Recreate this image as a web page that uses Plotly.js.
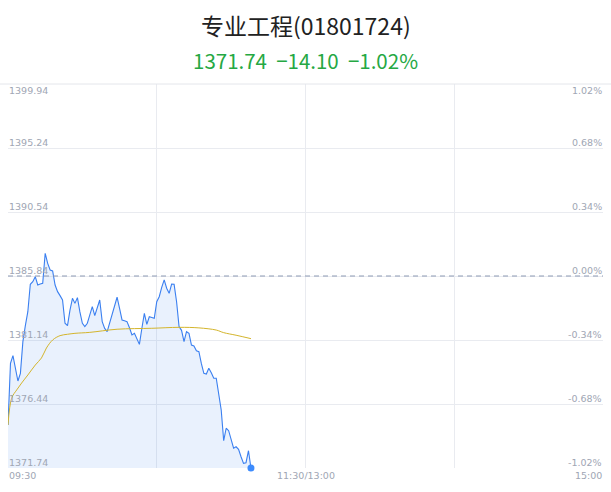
<!DOCTYPE html>
<html>
<head>
<meta charset="utf-8">
<script src="https://cdn.plot.ly/plotly-3.0.1.min.js"></script>
<style>
  html, body { margin: 0; padding: 0; background: #fff; }
  #chart { width: 611px; height: 492px; }
</style>
</head>
<body>
<div id="chart"></div>
<script>
/* global Plotly */
// minutes since 09:30 (trading minutes, lunch break removed)
const minutes = [
  0, 1, 2, 3, 4, 5, 6, 7, 8, 9, 10, 11, 12, 13, 14, 15, 16, 17, 18, 19,
  20, 21, 22, 23, 24, 25, 26, 27, 28, 29, 30, 31, 32, 33, 34, 35, 36, 37, 38, 39,
  40, 41, 42, 43, 44, 45, 46, 47, 48, 49, 50, 51, 52, 53, 54, 55, 56, 57, 58, 59,
  60, 61, 62, 63, 64, 65, 66, 67, 68, 69, 70, 71, 72, 73, 74, 75, 76, 77, 78, 79,
  80, 81, 82, 83, 84, 85, 86, 87, 88, 89, 90, 91, 92, 93, 94, 95, 96, 97, 98
];
const prices = [
  1374.90, 1379.43, 1379.99, 1378.90, 1378.13, 1378.69, 1381.02, 1382.20, 1383.22, 1385.23,
  1385.42, 1385.79, 1385.18, 1385.25, 1385.30, 1387.51, 1386.77, 1386.28, 1386.21, 1385.18,
  1384.69, 1384.40, 1384.08, 1382.37, 1382.19, 1383.34, 1384.20, 1383.83, 1384.25, 1383.20,
  1382.37, 1382.12, 1382.37, 1382.98, 1383.59, 1382.93, 1383.50, 1384.08, 1382.49, 1381.99,
  1381.75, 1382.40, 1383.10, 1383.70, 1384.28, 1383.47, 1382.61, 1382.55, 1382.49, 1382.04,
  1381.51, 1381.63, 1381.20, 1380.82, 1382.00, 1383.10, 1382.29, 1382.85, 1382.80, 1382.73,
  1383.95, 1384.32, 1385.00, 1385.55, 1384.94, 1384.57, 1385.25, 1385.23, 1383.95, 1382.12,
  1381.85, 1381.02, 1381.75, 1381.63, 1380.77, 1380.70, 1380.35, 1380.28, 1379.40, 1378.69,
  1378.64, 1379.06, 1378.74, 1378.33, 1378.33, 1377.10, 1376.00, 1373.75, 1374.66, 1374.48,
  1373.92, 1373.19, 1373.30, 1373.11, 1372.57, 1372.08, 1372.13, 1373.01, 1371.74
];
// average price line
const avgMinutes = [0, 1.5, 3.5, 5.5, 8, 11, 13.5, 15.5, 18, 21, 24, 27, 33, 44, 58, 69, 77, 84, 87, 92, 98];
const avgPrices = [
  1374.90, 1376.88, 1377.47, 1377.98, 1378.57, 1379.30, 1379.82, 1380.55, 1381.14, 1381.46,
  1381.56, 1381.63, 1381.70, 1381.93, 1382.00, 1382.07, 1382.03, 1381.87, 1381.68, 1381.49, 1381.24
];

const priceTicks = [1399.94, 1395.24, 1390.54, 1385.84, 1381.14, 1376.44, 1371.74];
const pctTicks = ['1.02%', '0.68%', '0.34%', '0.00%', '-0.34%', '-0.68%', '-1.02%'];
const timeTicks = [0, 120, 240];
const timeLabels = ['09:30', '11:30/13:00', '15:00'];
const gridMinutes = [0, 60, 120, 180];
const prevClose = 1385.84;

const titleText = '专业工程(01801724)';
const quoteText = '1371.74  −14.10  −1.02%';

(function () {
  const LABEL_COLOR = '#a0a6b4';
  const GRID_COLOR = '#e9ebf0';
  const labelFont = { family: 'DejaVu Sans, sans-serif', size: 9.5, color: LABEL_COLOR };

  const annotations = [];

  // price labels (left) and percent labels (right)
  priceTicks.forEach(function (v, i) {
    const top = i === 0;
    annotations.push({
      xref: 'paper', yref: 'y', x: 0, y: v,
      xanchor: 'left', yanchor: top ? 'top' : 'bottom',
      xshift: -1, yshift: top ? 1 : -2,
      text: v.toFixed(2), showarrow: false, font: labelFont
    });
    annotations.push({
      xref: 'paper', yref: 'y', x: 1, y: v,
      xanchor: 'right', yanchor: top ? 'top' : 'bottom',
      xshift: 1, yshift: top ? 1 : -2,
      text: pctTicks[i], showarrow: false, font: labelFont
    });
  });

  // time labels
  timeTicks.forEach(function (t, i) {
    annotations.push({
      xref: 'x', yref: 'paper', x: t, y: 0,
      xanchor: i === 0 ? 'left' : (i === timeTicks.length - 1 ? 'right' : 'center'),
      yanchor: 'top', xshift: i === timeTicks.length - 1 ? 1 : (i === 0 ? -1 : 0), yshift: 0,
      text: timeLabels[i], showarrow: false, font: labelFont
    });
  });

  // title and quote
  annotations.push({
    xref: 'paper', yref: 'paper', x: 0.5, y: 1, yshift: 59,
    xanchor: 'center', yanchor: 'middle', showarrow: false,
    text: titleText,
    font: { family: 'Noto Sans CJK SC, sans-serif', size: 23, color: '#222222' }
  });
  annotations.push({
    xref: 'paper', yref: 'paper', x: 0.5, y: 1, yshift: 24,
    xanchor: 'center', yanchor: 'middle', showarrow: false,
    text: quoteText,
    font: { family: 'Noto Sans CJK SC, sans-serif', size: 20.5, color: '#25a843' }
  });

  const shapes = [
    // separator line under the header
    { type: 'line', xref: 'paper', yref: 'paper', x0: -0.02, x1: 1.02, y0: 1, y1: 1,
      line: { color: '#e4e6eb', width: 1 } },
    // previous close, dashed
    { type: 'line', xref: 'paper', yref: 'y', x0: 0, x1: 1, y0: prevClose, y1: prevClose,
      line: { color: '#8d9ab3', width: 1, dash: '5px,4px' } }
  ];

  const traces = [
    {
      x: minutes, y: prices, type: 'scatter', mode: 'lines',
      line: { color: '#3a7ff0', width: 1.1 },
      fill: 'tozeroy', fillcolor: 'rgba(58,127,240,0.11)',
      hoverinfo: 'skip'
    },
    {
      x: avgMinutes, y: avgPrices, type: 'scatter', mode: 'lines',
      line: { color: '#d4b52c', width: 1, shape: 'spline' },
      hoverinfo: 'skip'
    },
    {
      x: [minutes[minutes.length - 1]], y: [prices[prices.length - 1]],
      type: 'scatter', mode: 'markers',
      marker: { color: '#3d8bfd', size: 7 },
      cliponaxis: false, hoverinfo: 'skip'
    }
  ];

  const layout = {
    width: 611, height: 492,
    margin: { l: 8, r: 8, t: 84, b: 24 },
    paper_bgcolor: '#ffffff', plot_bgcolor: '#ffffff',
    showlegend: false,
    xaxis: {
      range: [0, 240], tickvals: gridMinutes, showticklabels: false,
      showgrid: true, gridcolor: GRID_COLOR, gridwidth: 1,
      zeroline: false, showline: false, fixedrange: true
    },
    yaxis: {
      range: [1371.74, 1399.94], tickvals: priceTicks, showticklabels: false,
      showgrid: true, gridcolor: GRID_COLOR, gridwidth: 1,
      zeroline: false, showline: false, fixedrange: true
    },
    annotations: annotations,
    shapes: shapes
  };

  Plotly.newPlot('chart', traces, layout, { staticPlot: true, displayModeBar: false });
})();
</script>
</body>
</html>
